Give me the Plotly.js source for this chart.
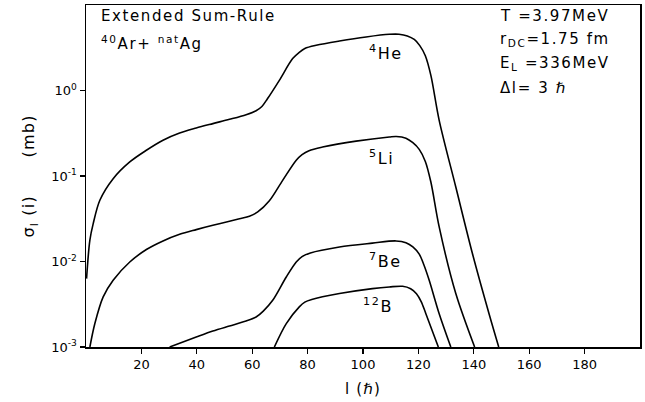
<!DOCTYPE html>
<html>
<head>
<meta charset="utf-8">
<script src="https://cdn.plot.ly/plotly-3.0.1.min.js"></script>
<style>
  html, body { margin: 0; padding: 0; background: #fff; }
  #chart { width: 645px; height: 402px; }
  /* plotter-style wide lettering */
  #chart .annotation-text { letter-spacing: 1.6px; }
  #chart .ytitle, #chart .xtitle { letter-spacing: 1.2px; }
</style>
</head>
<body>
<div id="chart"></div>
<script>
// Partial cross sections sigma_l (mb) versus angular momentum l (hbar)
const lHe = [0.2, 1.4, 2.6, 5, 9.8, 15.8, 21.8, 27.8, 33.8, 39.8, 45.8, 51.8, 57.8, 61.4, 63.5, 65.5, 69.8, 74.6, 77, 79, 83.1, 91.5, 101.1, 109.5, 113, 116, 118.5, 120.5, 122.5, 124.5, 127.5, 133.5, 139.5, 145.5, 149];
const sHe = [0.0063, 0.0178, 0.0277, 0.052, 0.093, 0.146, 0.20, 0.262, 0.318, 0.364, 0.41, 0.46, 0.522, 0.58, 0.65, 0.80, 1.315, 2.36, 2.8, 3.1, 3.38, 3.79, 4.23, 4.54, 4.55, 4.35, 3.95, 3.35, 2.55, 1.5, 0.448, 0.0743, 0.0124, 0.00245, 0.001];

const lLi = [1.4, 3.2, 6.2, 9.8, 15.8, 21.8, 27.8, 33.8, 39.8, 45.8, 51.8, 55.4, 59, 62, 66.2, 71, 75.9, 78, 80.5, 85.4, 97.5, 109.5, 112, 115.5, 118, 120.3, 122.5, 124.5, 127.5, 133.5, 140.3];
const sLi = [0.001, 0.00188, 0.00385, 0.00603, 0.00986, 0.0138, 0.0174, 0.0208, 0.0236, 0.0265, 0.0295, 0.0316, 0.0338, 0.038, 0.0513, 0.089, 0.153, 0.178, 0.198, 0.218, 0.256, 0.286, 0.29, 0.277, 0.245, 0.205, 0.148, 0.085, 0.0254, 0.00422, 0.001];

const lBe = [30.2, 39.8, 45.8, 51.8, 57.8, 61.4, 64, 67.4, 72.3, 75.9, 78, 81, 91.5, 103.4, 111.9, 115.5, 118, 120.3, 122, 123.9, 127.5, 131.7];
const sBe = [0.001, 0.00131, 0.00154, 0.00176, 0.00201, 0.00224, 0.00263, 0.00352, 0.00659, 0.00986, 0.0114, 0.0126, 0.0148, 0.0164, 0.0174, 0.0166, 0.0148, 0.0122, 0.0091, 0.00603, 0.00245, 0.001];

const lB = [68, 72.3, 77, 79, 81.5, 91.5, 103.4, 109.5, 114.3, 117.2, 119.3, 121, 122.7, 127.2];
const sB = [0.001, 0.00188, 0.00295, 0.00335, 0.0036, 0.00422, 0.00482, 0.00504, 0.00513, 0.0048, 0.0042, 0.0034, 0.00245, 0.001];

const xTicks = [20, 40, 60, 80, 100, 120, 140, 160, 180];
const yTicks = [0.001, 0.01, 0.1, 1];
const yTickText = ['10<sup>-3</sup>', '10<sup>-2</sup>', '10<sup>-1</sup>', '10<sup>0</sup>'];

const FONT = 'DejaVu Sans, Liberation Sans, sans-serif';

function curve(x, y) {
  return {
    x: x, y: y, type: 'scatter', mode: 'lines',
    line: { color: '#000', width: 1.6, shape: 'spline', smoothing: 0.9 },
    hoverinfo: 'skip', showlegend: false
  };
}

const data = [curve(lHe, sHe), curve(lLi, sLi), curve(lBe, sBe), curve(lB, sB)];

function label(text, x, logy) {
  return {
    text: text, x: x, y: logy, xref: 'x', yref: 'y',
    showarrow: false, xanchor: 'left', align: 'left', yanchor: 'middle',
    font: { family: FONT, size: 16, color: '#000' }
  };
}

function paperLabel(text, px, py, size) {
  // px, py in page pixels, converted to fractions of the plot area
  return {
    text: text, xref: 'paper', yref: 'paper',
    x: (px - 86) / (640 - 86), y: (347 - py) / (347 - 5),
    showarrow: false, xanchor: 'left', align: 'left', yanchor: 'middle',
    font: { family: FONT, size: size || 14, color: '#000' }
  };
}

const layout = {
  width: 645, height: 402,
  margin: { l: 86, r: 5, t: 5, b: 55 },
  paper_bgcolor: '#fff', plot_bgcolor: '#fff',
  font: { family: FONT, color: '#000' },
  xaxis: {
    range: [0, 200], showgrid: false, zeroline: false,
    tickvals: xTicks, ticks: 'outside', ticklen: 5, tickwidth: 1.2, tickcolor: '#000',
    tickfont: { family: FONT, size: 13, color: '#000' },
    showline: true, linecolor: '#000', linewidth: 1.5, mirror: true,
    title: { text: 'l (ℏ)', font: { family: FONT, size: 15, color: '#000' }, standoff: 12 }
  },
  yaxis: {
    type: 'log', range: [-3, 1], showgrid: false, zeroline: false,
    tickvals: yTicks, ticktext: yTickText, ticks: 'outside', ticklen: 5, tickwidth: 1.2, tickcolor: '#000',
    tickfont: { family: FONT, size: 13, color: '#000' },
    showline: true, linecolor: '#000', linewidth: 1.5, mirror: true,
    title: { text: 'σ<sub>l</sub> (i)      (mb)', font: { family: FONT, size: 16, color: '#000' }, standoff: 12 }
  },
  annotations: [
    paperLabel('Extended Sum-Rule', 99, 16, 15),
    paperLabel('<sup>40</sup>Ar+ <sup>nat</sup>Ag', 99, 43, 15),
    paperLabel('T =3.97MeV', 498, 16, 15),
    paperLabel('r<sub>DC</sub>=1.75 fm', 498, 39, 15),
    paperLabel('E<sub>L</sub> =336MeV', 498, 63, 15),
    paperLabel('Δl= 3 ℏ', 498, 88, 15),
    label('<sup>4</sup>He', 101.3, 0.447),
    label('<sup>5</sup>Li', 101.6, -0.781),
    label('<sup>7</sup>Be', 101.3, -1.986),
    label('<sup>12</sup>B', 99.4, -2.512)
  ]
};

Plotly.newPlot('chart', data, layout, { displayModeBar: false, staticPlot: true });
</script>
</body>
</html>
